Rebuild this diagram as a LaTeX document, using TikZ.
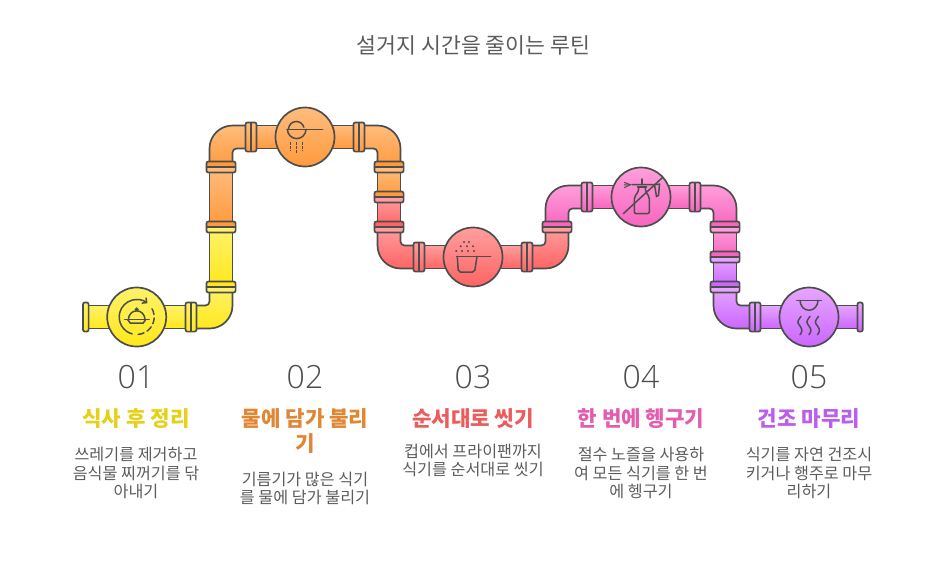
\documentclass[tikz,border=0pt]{standalone}
\usepackage{fontspec}
\usetikzlibrary{arrows.meta, positioning}
\newfontfamily\korfont{Noto Sans CJK KR}
\newfontfamily\numfont{Open Sans Light}
\definecolor{edge}{HTML}{4D4D4D}
\definecolor{txt}{HTML}{5C5C5C}
\definecolor{yela}{HTML}{FFF26B}
\definecolor{yelb}{HTML}{FFE81A}
\definecolor{orga}{HTML}{FFBC7D}
\definecolor{orgb}{HTML}{FF9A3C}
\definecolor{reda}{HTML}{FF9E9E}
\definecolor{redb}{HTML}{FF6464}
\definecolor{pnka}{HTML}{FF9EDB}
\definecolor{pnkb}{HTML}{F765BE}
\definecolor{pura}{HTML}{E6A6FF}
\definecolor{purb}{HTML}{CB66FF}
\tikzset{
  grad/.style  = {top color=#1a, bottom color=#1b},
  pipe/.style  = {draw=edge, line width=1.7pt, line join=round},
  valve/.style = {circle, draw=edge, line width=1.7pt, minimum size=59pt,
                  inner sep=0pt, outer sep=0pt},
  ico/.style   = {draw=edge, line width=1.5pt, line cap=round},
  num/.style   = {font=\numfont\fontsize{32}{36}\selectfont, text=edge, inner sep=0pt},
  head/.style  = {font=\korfont\bfseries\fontsize{21.2}{25}\selectfont, align=center, inner sep=0pt},
  desc/.style  = {font=\korfont\fontsize{16.2}{18.3}\selectfont, align=center, text=txt, inner sep=0pt},
}
% flanges on upright and level pipe runs
\newcommand{\flv}[4]{
  \draw[pipe, fill=#3] (#1-14.6,#2) [rounded corners=2pt] -- (#1-14.6,#2-5.5) -- (#1+14.6,#2-5.5) [sharp corners] -- (#1+14.6,#2) -- cycle;
  \draw[pipe, fill=#4] (#1-14.6,#2) [rounded corners=2pt] -- (#1-14.6,#2+5.5) -- (#1+14.6,#2+5.5) [sharp corners] -- (#1+14.6,#2) -- cycle;
}
\newcommand{\flh}[3]{
  \draw[pipe, grad=#3, rounded corners=2pt] (#1-5.5,#2-14.6) rectangle (#1+5.5,#2+14.6);
  \draw[pipe] (#1,#2-14.6) -- (#1,#2+14.6);
}
\begin{document}
\begin{tikzpicture}[x=1pt, y=-1pt]
  \useasboundingbox (0,0) rectangle (947,568);

  % yellow run
  \draw[pipe, grad=yel] (86,305.5) rectangle (191,328.5);
  \draw[pipe, grad=yel] (191,305.5) [rounded corners=4pt] -- (209.5,305.5) [sharp corners] -- (209.5,287) -- (232.5,287) [rounded corners=23pt] -- (232.5,328.5) [sharp corners] -- (191,328.5) -- cycle;
  \draw[pipe, grad=yel] (209.5,227) rectangle (232.5,287);

  % orange run
  \draw[pipe, grad=org] (209.5,167) rectangle (232.5,227);
  \draw[pipe, grad=org] (209.5,167) [rounded corners=23pt] -- (209.5,125.5) [sharp corners] -- (251,125.5) -- (251,148.5) [rounded corners=4pt] -- (232.5,148.5) [sharp corners] -- (232.5,167) -- cycle;
  \draw[pipe, grad=org] (251,125.5) rectangle (359,148.5);
  \draw[pipe, grad=org] (359,125.5) [rounded corners=23pt] -- (400.5,125.5) [sharp corners] -- (400.5,167) -- (377.5,167) [rounded corners=4pt] -- (377.5,148.5) [sharp corners] -- (359,148.5) -- cycle;
  \draw[pipe, grad=org] (377.5,167) rectangle (400.5,197);

  % red run
  \draw[pipe, grad=red] (377.5,197) rectangle (400.5,227);
  \draw[pipe, grad=red] (377.5,227) [rounded corners=23pt] -- (377.5,268.5) [sharp corners] -- (419,268.5) -- (419,245.5) [rounded corners=4pt] -- (400.5,245.5) [sharp corners] -- (400.5,227) -- cycle;
  \draw[pipe, grad=red] (419,245.5) rectangle (527,268.5);
  \draw[pipe, grad=red] (527,245.5) [rounded corners=4pt] -- (545.5,245.5) [sharp corners] -- (545.5,227) -- (568.5,227) [rounded corners=23pt] -- (568.5,268.5) [sharp corners] -- (527,268.5) -- cycle;

  % pink run
  \draw[pipe, grad=pnk] (545.5,227) [rounded corners=23pt] -- (545.5,185.5) [sharp corners] -- (587,185.5) -- (587,208.5) [rounded corners=4pt] -- (568.5,208.5) [sharp corners] -- (568.5,227) -- cycle;
  \draw[pipe, grad=pnk] (587,185.5) rectangle (695,208.5);
  \draw[pipe, grad=pnk] (695,185.5) [rounded corners=23pt] -- (736.5,185.5) [sharp corners] -- (736.5,227) -- (713.5,227) [rounded corners=4pt] -- (713.5,208.5) [sharp corners] -- (695,208.5) -- cycle;
  \draw[pipe, grad=pnk] (713.5,227) rectangle (736.5,257);

  % purple run
  \draw[pipe, grad=pur] (713.5,257) rectangle (736.5,287);
  \draw[pipe, grad=pur] (713.5,287) [rounded corners=23pt] -- (713.5,328.5) [sharp corners] -- (755,328.5) -- (755,305.5) [rounded corners=4pt] -- (736.5,305.5) [sharp corners] -- (736.5,287) -- cycle;
  \draw[pipe, grad=pur] (755,305.5) rectangle (860,328.5);

  % flanges
  \draw[pipe, grad=yel, rounded corners=2pt] (83,302.4) rectangle (88.6,331.6);
  \draw[pipe, grad=pur, rounded corners=2pt] (857.4,302.4) rectangle (862.8,331.6);
  \flh{191}{317}{yel}
  \flh{251}{137}{org}
  \flh{359}{137}{org}
  \flh{419}{257}{red}
  \flh{527}{257}{red}
  \flh{587}{197}{pnk}
  \flh{695}{197}{pnk}
  \flh{755}{317}{pur}
  \flv{221}{287}{yelb}{yela}
  \flv{221}{227}{orgb}{yela}
  \flv{221}{167}{orgb}{orga}
  \flv{389}{167}{orgb}{orga}
  \flv{389}{197}{orgb}{reda}
  \flv{389}{227}{redb}{reda}
  \flv{557}{227}{pnkb}{reda}
  \flv{725}{227}{pnkb}{pnka}
  \flv{725}{257}{pnkb}{pura}
  \flv{725}{287}{purb}{pura}

  \node[valve, grad=yel] (dish)  at (136.7,317) {};
  \node[valve, grad=org] (soak)  at (305,137) {};
  \node[valve, grad=red] (pan)   at (473,257) {};
  \node[valve, grad=pnk] (spray) at (641,197) {};
  \node[valve, grad=pur] (dry)   at (809,317) {};

  % icons, y runs upward here
  \begin{scope}[shift={(dish.center)}, y=1pt]
    \draw[ico, -{Straight Barb[length=3.5pt,width=7pt]}] (255:17.5) arc (255:52:17.5);
    \draw[ico, dash pattern=on 6pt off 3.5pt] (275:17.5) arc (275:395:17.5);
    \draw[ico] (-8.3,-2.6) arc (180:0:8.3 and 8.8);
    \draw[ico] (-12,-2.6) -- (12.5,-2.6);
    \draw[ico] (-9,-2.6) -- (-6.5,-6) -- (6.5,-6) -- (9,-2.6);
    \draw[ico, fill=edge] (0,7.6) circle (1.1);
  \end{scope}
  \begin{scope}[shift={(soak.center)}, y=1pt]
    \draw[ico] (-18,7.7) -- (17.7,7.7);
    \draw[ico] (-17.6,7.7) arc (180:360:9.3);
    \draw[ico] (-16.5,7.7) arc (180:15:7.8);
    \foreach \i/\j in {-14.3/-13.5, -8.3/-15.5, -2.3/-13.5}
      \draw[ico, line cap=butt, dash pattern=on 2.6pt off 1.6pt] (\i,-5) -- (\i,\j);
  \end{scope}
  \begin{scope}[shift={(pan.center)}, y=1pt]
    \draw[ico] (-16.5,0.7) -- (17.7,0.7);
    \draw[ico, rounded corners=2pt] (-15.7,0.7) -- (-14.7,-15) -- (1.6,-15) -- (4,0.7);
    \foreach \i/\j in {-9/15, -4/15, -12.3/10.7, -6/10.7, 0/10.7, -16.7/6, -11/6, -5/6, 1/6}
      \fill[edge] (\i,\j) circle (1.1);
  \end{scope}
  \begin{scope}[shift={(spray.center)}, y=1pt]
    \draw[ico, rounded corners=2pt] (-2.3,10) -- (-2.3,6) -- (-6.7,0) -- (-6.7,-16.7) -- (8.3,-16.7) -- (8.3,0) -- (4.3,6) -- (4.3,10);
    \draw[ico] (-3.5,10) -- (5.5,10);
    \draw[ico] (1,18) -- (1,12.3);
    \draw[ico] (-9,12.3) -- (13,12.3) -- (18.5,12.8);
    \draw[ico] (13.5,12.3) -- (15.5,0.5) -- (17.5,1.5) -- (18.5,12.8);
    \draw[ico, line width=1pt] (-10.5,12.3) -- (-16.5,14.5);
    \draw[ico, line width=1pt] (-10.5,12.3) -- (-17,12);
    \draw[ico, line width=1pt] (-10.5,12.3) -- (-16.5,9.5);
    \draw[ico] (-17.7,-16.7) -- (21,19);
  \end{scope}
  \begin{scope}[shift={(dry.center)}, y=1pt]
    \draw[ico] (-12.3,16.7) -- (12.3,16.7);
    \draw[ico] (-9,16.7) arc (180:360:9 and 10);
    \foreach \i in {-9, 0, 8.5}
      \draw[ico] (\i+1,0.7) .. controls (\i-3,-5) and (\i-3,-5) .. (\i,-9) .. controls (\i+3,-13) and (\i+2,-15) .. (\i,-17.7);
  \end{scope}

  \node[font=\korfont\fontsize{21.6}{24}\selectfont, text=txt, inner sep=0pt] (title) at (473.5,45.5) {설거지 시간을 줄이는 루틴};

  \node[num] (num1) at (136,377) {01};
  \node[num] (num2) at (305,377) {02};
  \node[num] (num3) at (473,377) {03};
  \node[num] (num4) at (641,377) {04};
  \node[num] (num5) at (809,377) {05};

  \node[head, text=yelb!90!black, below=19.5pt of num1] (head1) {식사 후 정리};
  \node[head, text=orgb!88!black, below=19.5pt of num2] (head2) {물에 담가 불리\\기};
  \node[head, text=redb!92!black, below=19.5pt of num3] (head3) {순서대로 씻기};
  \node[head, text=pnkb!92!black, below=19.5pt of num4] (head4) {한 번에 헹구기};
  \node[head, text=purb!92!black, below=19.5pt of num5] (head5) {건조 마무리};

  \node[desc, below=18.5pt of head1] (desc1) {쓰레기를 제거하고\\음식물 찌꺼기를 닦\\아내기};
  \node[desc, below=18pt of head2] (desc2) {기름기가 많은 식기\\를 물에 담가 불리기};
  \node[desc, below=15.2pt of head3] (desc3) {컵에서 프라이팬까지\\식기를 순서대로 씻기};
  \node[desc, below=18.5pt of head4] (desc4) {절수 노즐을 사용하\\여 모든 식기를 한 번\\에 헹구기};
  \node[desc, below=18.5pt of head5] (desc5) {식기를 자연 건조시\\키거나 행주로 마무\\리하기};

\end{tikzpicture}
\end{document}
